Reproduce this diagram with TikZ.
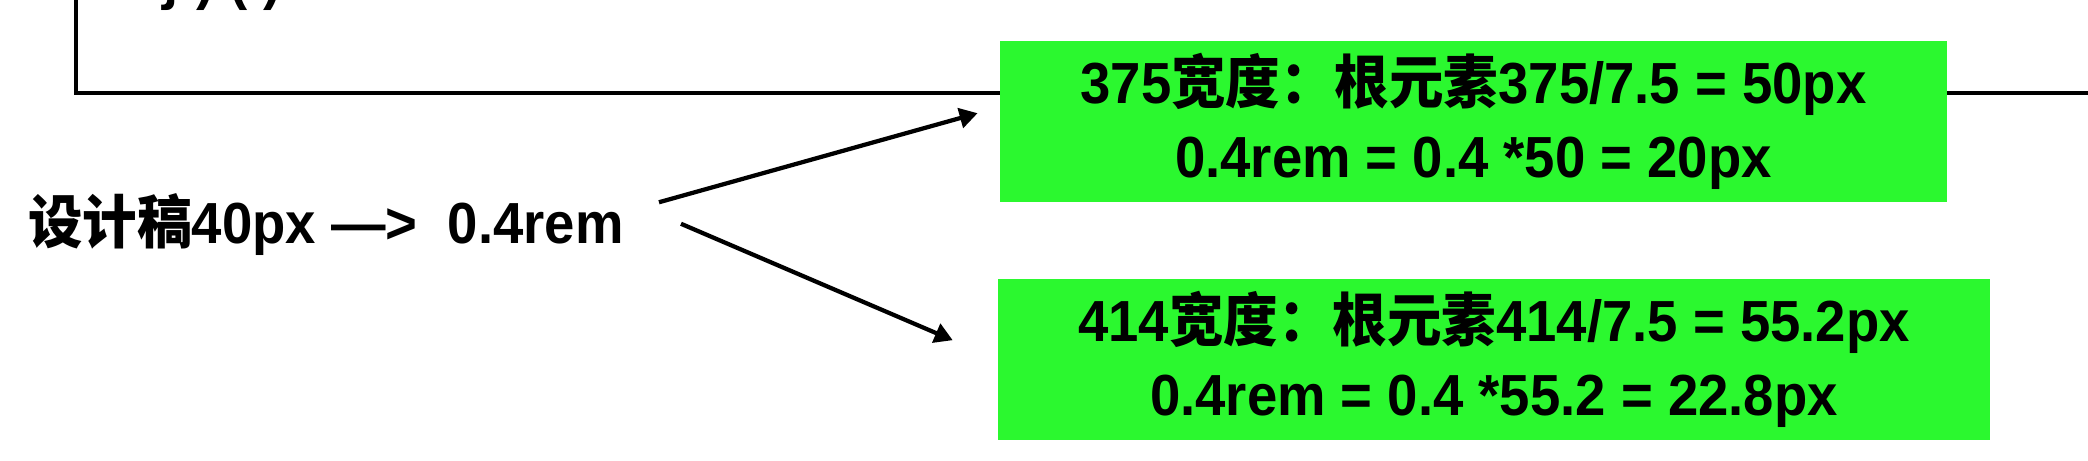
\documentclass[tikz,border=0pt]{standalone}
\usepackage{fontspec}
\setmainfont{Liberation Sans}[FakeStretch=0.94]
\newfontfamily\cjk{Noto Sans CJK SC}[FakeStretch=0.94]
\usetikzlibrary{calc,arrows.meta,positioning}
\definecolor{boxgreen}{HTML}{2BF82F}
\tikzset{
    size box/.style={
        fill=boxgreen,inner sep=0pt,
        minimum height=3.22cm,
        align=center,
        font=\bfseries\fontsize{33pt}{42.5pt}\selectfont
    },
    big text/.style={inner sep=0pt,font=\bfseries\fontsize{33pt}{42.5pt}\selectfont},
    thick line/.style={line width=0.85mm},
    >={Triangle[length=0.36cm,width=0.4cm]}
}
\begin{document}
\begin{tikzpicture}[x=0.02cm,y=-0.02cm]
\clip (0,0) rectangle (2088,460);
% end of the code block above, cut off by the page
\node[big text,anchor=base west] (tail) at (160,-2) {\} ) ( )};
\draw[thick line] (76,-10) |- (2100,93);
\node[size box,minimum width=18.94cm] (w375) at (1473.5,121.5)
    {375{\cjk 宽度：根元素}375/7.5 = 50px\\0.4rem = 0.4 *50 = 20px};
\node[size box,minimum width=19.84cm] (w414) at (1494,359.5)
    {414{\cjk 宽度：根元素}414/7.5 = 55.2px\\0.4rem = 0.4 *55.2 = 22.8px};
\node[big text,anchor=base west] (src) at (28,243) {{\cjk 设计稿}40px —>\ \ 0.4rem};
\coordinate (fork) at ($(src.east)+(18,-17)$);
\draw[->,thick line,shorten <=0.354cm,shorten >=0.46cm] (fork) -- ([yshift=0.29cm]w375.west);
\draw[->,thick line,shorten <=0.85cm,shorten >=0.98cm] (fork) -- (w414.west);
\end{tikzpicture}
\end{document}
